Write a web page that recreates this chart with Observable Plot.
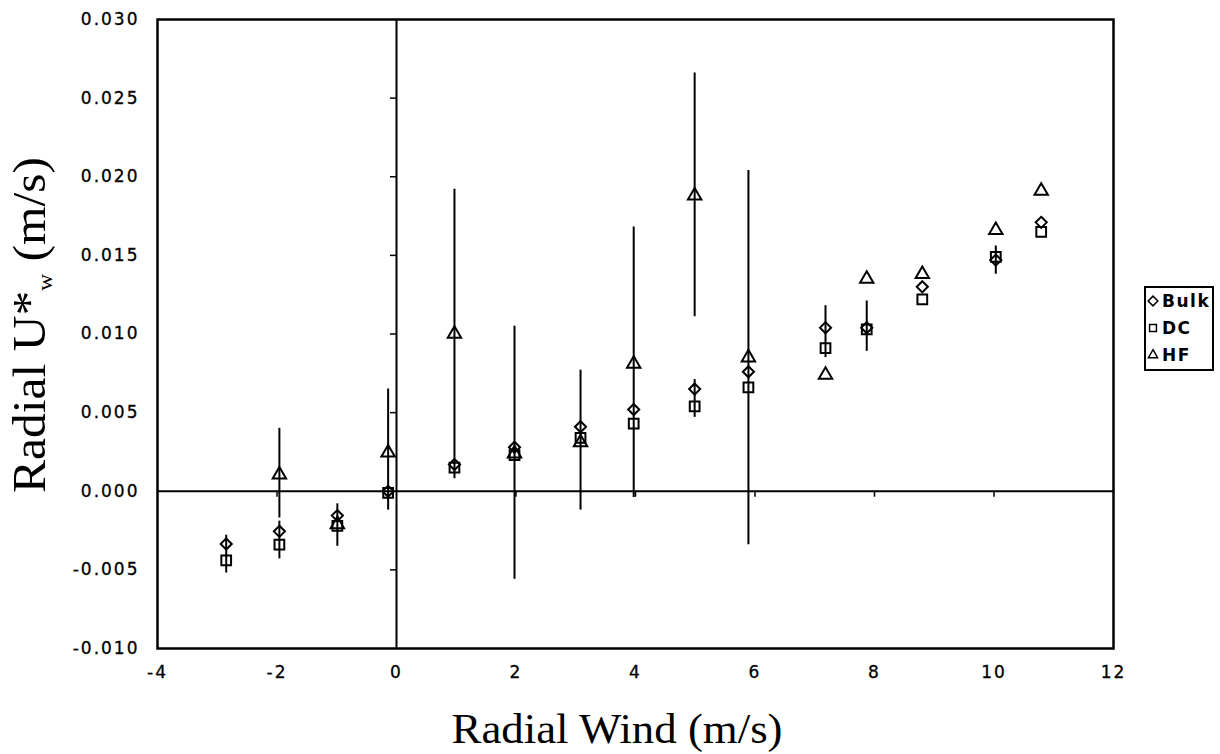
<!DOCTYPE html>
<html><head><meta charset="utf-8">
<script src="https://cdn.jsdelivr.net/npm/d3@7"></script>
<script src="https://cdn.jsdelivr.net/npm/@observablehq/plot@0.6"></script>
<style>
body{margin:0;background:#fff;}
#wrap{position:relative;width:1220px;height:754px;overflow:hidden;}
#wrap g[aria-label$="tick label"] text{letter-spacing:2px;font-family:"DejaVu Sans";stroke:#000;stroke-width:0.3px;}
.serif, .serif tspan{font-family:"Liberation Serif","Times New Roman",serif !important;}
</style></head><body><div id="wrap"></div>
<script>
// Radial wind (m/s) of each bin
const windX = [-2.85, -1.96, -0.99, -0.14, 0.97, 1.975, 3.08, 3.97, 4.99, 5.89, 7.18, 7.87, 8.80, 10.03, 10.79];
// Radial U*w (m/s) per method
const bulk = [-0.00335, -0.00255, -0.00155, 0.0000, 0.0017, 0.0028, 0.0041, 0.0052, 0.0065, 0.0076, 0.0104, 0.0104, 0.0130, 0.0147, 0.0171];
const dc   = [-0.0044, -0.0034, -0.0022, -0.0001, 0.0015, 0.0023, 0.0034, 0.0043, 0.0054, 0.0066, 0.0091, 0.0103, 0.0122, 0.0149, 0.0165];
const hf   = [null, 0.00105, -0.0021, 0.00245, 0.0100, 0.0024, 0.0031, 0.0081, 0.0188, 0.0085, 0.0074, 0.0135, 0.0138, 0.0166, 0.0191];
// error bars
const errX  = [-2.85, -1.96, -1.96, -0.99, -0.14, 0.97, 1.975, 3.08, 3.97, 4.99, 4.99, 5.89, 7.18, 7.87, 10.03];
const errLo = [-0.0052, -0.0017, -0.0043, -0.0035, -0.0012, 0.0008, -0.0056, -0.0012, -0.0004, 0.0111, 0.0047, -0.0034, 0.0085, 0.0089, 0.0138];
const errHi = [-0.0028, 0.0040, -0.0019, -0.0008, 0.0065, 0.0192, 0.0105, 0.0077, 0.0168, 0.0266, 0.0071, 0.0204, 0.0118, 0.0121, 0.0156];
// ticks
const xTicks = [-4, -2, 0, 2, 4, 6, 8, 10, 12];
const yTicks = [-0.010, -0.005, 0, 0.005, 0.010, 0.015, 0.020, 0.025, 0.030];
const xInnerTicks = [-2, 2, 4, 6, 8, 10];
const yInnerTicks = [-0.005, 0.005, 0.010, 0.015, 0.020, 0.025];
const seriesNames = ["Bulk", "DC", "HF"];
const seriesSymbols = ["diamond2", "square2", "triangle2"];
const seriesR = [5, 6.2, 6.4];
const xTitle = "Radial Wind (m/s)";

const rows = (vals) => windX.map((x, i) => ({x, y: vals[i]})).filter(d => d.y != null);
const errs = errX.map((x, i) => ({x, lo: errLo[i], hi: errHi[i]}));
const seriesVals = [bulk, dc, hf];

const fmtY = d => d3.format(".3f")(d).replace("\u2212", "-");
const fmtX = d => String(d);

const chart = Plot.plot({
  width: 1220, height: 754,
  marginLeft: 157, marginRight: 107, marginTop: 19, marginBottom: 106,
  x: {domain: [-4, 12]},
  y: {domain: [-0.010, 0.030]},
  style: {fontFamily: "DejaVu Sans", fontSize: "17px", color: "#000", background: "#fff"},
  marks: [
    Plot.ruleX([0], {stroke: "#000", strokeWidth: 2}),
    Plot.ruleY([0], {stroke: "#000", strokeWidth: 2}),
    Plot.ruleY(yInnerTicks, {y: d => d, x1: 0, x2: 0, insetLeft: -6, stroke: "#000", strokeWidth: 1.5}),
    Plot.ruleX(xInnerTicks, {x: d => d, y1: 0, y2: 0, insetBottom: -6, stroke: "#000", strokeWidth: 1.5}),
    Plot.ruleX(errs, {x: "x", y1: "lo", y2: "hi", stroke: "#000", strokeWidth: 2}),
    ...seriesVals.map((vals, k) => Plot.dot(rows(vals), {
      x: "x", y: "y", symbol: seriesSymbols[k], r: seriesR[k],
      stroke: "#000", strokeWidth: 2, fill: "none"
    })),
    Plot.frame({stroke: "#000", strokeWidth: 2.5}),
    Plot.axisX(xTicks, {tickSize: 0, tickPadding: 17, label: null, tickFormat: fmtX, fontSize: 17}),
    Plot.axisY(yTicks, {tickSize: 0, tickPadding: 18, label: null, tickFormat: fmtY, fontSize: 17})
  ]
});

const svg = d3.select(chart);
// x title
svg.append("text")
  .attr("class", "serif")
  .attr("x", 617).attr("y", 743)
  .attr("text-anchor", "middle")
  .attr("font-size", 43)
  .attr("textLength", 331).attr("lengthAdjust", "spacingAndGlyphs")
  .attr("fill", "#000")
  .text(xTitle);
// y title with subscript
const yt = svg.append("text")
  .attr("class", "serif")
  .attr("transform", "translate(45,325) rotate(-90)")
  .attr("text-anchor", "middle")
  .attr("font-size", 47)
  .attr("textLength", 336).attr("lengthAdjust", "spacingAndGlyphs")
  .attr("fill", "#000");
yt.append("tspan").text("Radial U*");
yt.append("tspan").attr("font-size", 22).attr("dy", 7).text("w");
yt.append("tspan").attr("dy", -7).text(" (m/s)");

document.getElementById("wrap").appendChild(chart);

// legend
const leg = d3.select("#wrap").append("svg")
  .attr("width", 72).attr("height", 86)
  .style("position", "absolute").style("left", "1144px").style("top", "286px");
leg.append("rect").attr("x", 1).attr("y", 1).attr("width", 68).attr("height", 83)
  .attr("fill", "#fff").attr("stroke", "#000").attr("stroke-width", 2);
const legSym = {diamond2: d3.symbolDiamond2, square2: d3.symbolSquare2, triangle2: d3.symbolTriangle2};
seriesNames.forEach((name, k) => {
  const cy = 15 + k * 27;
  leg.append("path")
    .attr("d", d3.symbol(legSym[seriesSymbols[k]], 60)())
    .attr("transform", `translate(9,${cy})`)
    .attr("fill", "none").attr("stroke", "#000").attr("stroke-width", 1.5);
  leg.append("text")
    .attr("x", 18).attr("y", cy + 6)
    .attr("font-family", "DejaVu Sans").attr("font-weight", "bold").attr("font-size", 17)
    .attr("letter-spacing", "1.5px")
    .attr("fill", "#000")
    .text(name);
});
</script></body></html>
